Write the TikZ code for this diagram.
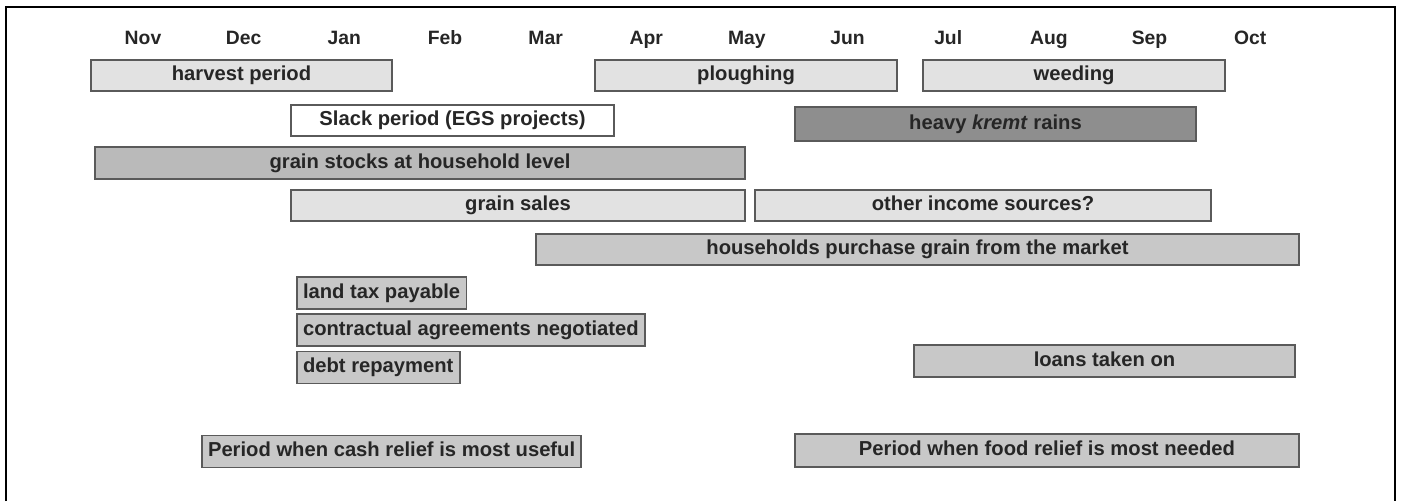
\documentclass[tikz,border=0pt]{standalone}
\usepackage{fontspec}
\setmainfont{Liberation Sans}

\definecolor{barlight}{HTML}{E2E2E2}
\definecolor{barmid}{HTML}{C8C8C8}
\definecolor{bardark}{HTML}{BABABA}
\definecolor{barrain}{HTML}{8E8E8E}
\definecolor{edge}{HTML}{5A5A5A}

\tikzset{
  bar/.style={draw=edge, line width=1pt, inner sep=0pt,
    text height=8.5pt, text depth=2.5pt,
    font=\fontsize{11.5}{13}\selectfont\bfseries, text=black!85},
  span/.style 2 args={minimum width=#1*0.02cm, minimum height=#2*0.02cm},
  tag/.style={bar, anchor=west, inner xsep=3.5pt, minimum height=0.64cm},
  month/.style={font=\fontsize{11}{13}\selectfont\bfseries, text=black!85, anchor=base}
}

\begin{document}
\begin{tikzpicture}[x=0.02cm, y=-0.02cm]
    \useasboundingbox (0,0) rectangle (1402,501);
    \draw[line width=1pt] (6,501) -- (6,7) -- (1395,7) -- (1395,501);
    \foreach \m [count=\i from 0] in {Nov,Dec,Jan,Feb,Mar,Apr,May,Jun,Jul,Aug,Sep,Oct}
      \node[month] (\m) at ({143+100.65*\i},44) {\m};
    % farming calendar
    \node[bar, fill=barlight, span={301}{31}] (harvest) at (241.5,75.5) {harvest period};
    \node[bar, fill=barlight, span={302}{31}] (plough) at (746,75.5) {ploughing};
    \node[bar, fill=barlight, span={302}{31}] (weed) at (1074,75.5) {weeding};
    \node[bar, fill=white, span={323}{31}] (slack) at (452.5,120.5) {Slack period (EGS projects)};
    \node[bar, fill=barrain, span={401}{34}] (rain) at (995.5,124) {heavy \textit{kremt} rains};
    \node[bar, fill=bardark, span={650}{32}] (stocks) at (420,163) {grain stocks at household level};
    \node[bar, fill=barlight, span={454}{31}] (sales) at (518,205.5) {grain sales};
    \node[bar, fill=barlight, span={456}{31}] (income) at (983,205.5) {other income sources?};
    \node[bar, fill=barmid, span={763}{31}] (purchase) at (917.5,249.5) {households purchase grain from the market};
    % obligations
    \node[tag, fill=barmid] (tax) at (296,293) {land tax payable};
    \node[tag, fill=barmid] (contract) at (296,330) {contractual agreements negotiated};
    \node[tag, fill=barmid] (debt) at (296,367.5) {debt repayment};
    \node[bar, fill=barmid, span={381}{32}] (loans) at (1104.5,361) {loans taken on};
    % relief
    \node[tag, fill=barmid] (cash) at (201,451.5) {Period when cash relief is most useful};
    \node[bar, fill=barmid, span={504}{33}] (food) at (1047,450.5) {Period when food relief is most needed};
\end{tikzpicture}
\end{document}
